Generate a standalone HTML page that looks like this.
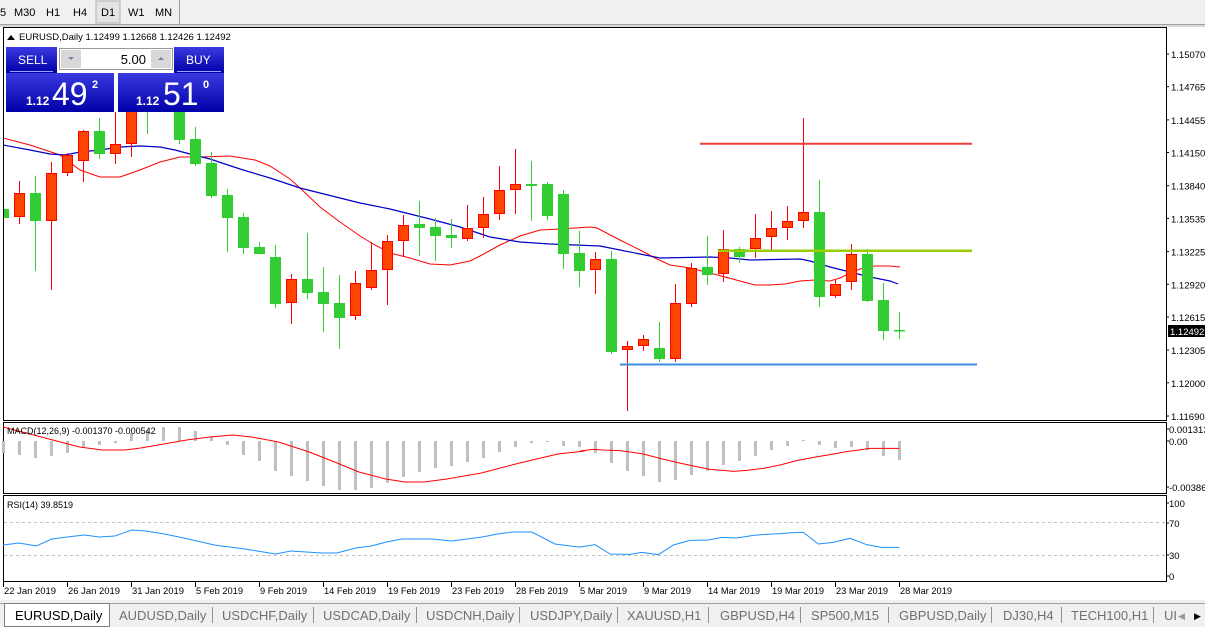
<!DOCTYPE html>
<html><head><meta charset="utf-8"><style>
html,body{margin:0;padding:0;width:1205px;height:627px;overflow:hidden;background:#fff;font-family:"Liberation Sans",sans-serif}
svg{display:block}
</style></head><body>
<svg id="s" width="1205" height="627" xmlns="http://www.w3.org/2000/svg" font-family="Liberation Sans, sans-serif">
<rect x="0" y="0" width="1205" height="25" fill="#f0f0f0"/>
<line x1="0" y1="24.5" x2="1205" y2="24.5" stroke="#a0a0a0"/>
<rect x="96" y="1" width="24" height="22" fill="#e4e4e4" stroke="#b0b0b0"/>
<line x1="179.5" y1="0" x2="179.5" y2="24" stroke="#a0a0a0"/>
<g font-size="11" fill="#000">
<text x="0" y="16">5</text><text x="14" y="16">M30</text><text x="46" y="16">H1</text><text x="73" y="16">H4</text><text x="101" y="16">D1</text><text x="128" y="16">W1</text><text x="155" y="16">MN</text>
</g>
<rect x="0" y="25" width="1205" height="2" fill="#d8d8d8"/>
<rect x="3.5" y="27.5" width="1163" height="393" fill="#fff" stroke="#000"/>
<rect x="3.5" y="422.5" width="1163" height="71" fill="#fff" stroke="#000"/>
<rect x="3.5" y="495.5" width="1163" height="86" fill="#fff" stroke="#000"/>
<g id="g"></g>
<g font-size="9.5" fill="#000" id="ax"></g>
<rect x="1168" y="325" width="37" height="12" fill="#000"/>
<text x="1170" y="335" font-size="9.5" fill="#fff">1.12492</text>
<path d="M7 40 L11 35 L15 40 Z" fill="#000"/>
<text x="19" y="40" font-size="9.5" fill="#000">EURUSD,Daily  1.12499 1.12668 1.12426 1.12492</text>
<defs><linearGradient id="bg" x1="0" y1="0" x2="0" y2="1"><stop offset="0" stop-color="#3a3ae0"/><stop offset="1" stop-color="#0000a8"/></linearGradient></defs>
<rect x="6" y="47" width="218" height="65" fill="#fff"/>
<rect x="6" y="47" width="51" height="26" fill="url(#bg)"/>
<rect x="174" y="47" width="50" height="26" fill="url(#bg)"/>
<rect x="6" y="73" width="108" height="39" fill="url(#bg)"/>
<rect x="118" y="73" width="106" height="39" fill="url(#bg)"/>
<line x1="10" y1="71.5" x2="53" y2="71.5" stroke="#9aa0ff"/>
<line x1="177" y1="71.5" x2="221" y2="71.5" stroke="#9aa0ff"/>
<rect x="59.5" y="48.5" width="113" height="21" fill="#fff" stroke="#999"/>
<rect x="61" y="50" width="20" height="18" fill="#d8d8d8"/><rect x="151" y="50" width="20" height="18" fill="#d8d8d8"/>
<path d="M68 57 L74 57 L71 60Z" fill="#7080a0"/><path d="M158 60 L164 60 L161 57Z" fill="#7080a0"/>
<text x="146" y="64" font-size="13" text-anchor="end" fill="#000">5.00</text>
<text x="18" y="64" font-size="12" fill="#fff">SELL</text>
<text x="186" y="64" font-size="12" fill="#fff">BUY</text>
<text x="26" y="105" font-size="12" font-weight="bold" fill="#fff">1.12</text>
<text x="52" y="105" font-size="32" fill="#fff">49</text>
<text x="92" y="88" font-size="11" font-weight="bold" fill="#fff">2</text>
<text x="136" y="105" font-size="12" font-weight="bold" fill="#fff">1.12</text>
<text x="163" y="105" font-size="32" fill="#fff">51</text>
<text x="203" y="88" font-size="11" font-weight="bold" fill="#fff">0</text>
<text x="7" y="434" font-size="9" fill="#000">MACD(12,26,9) -0.001370 -0.000542</text>
<text x="7" y="508" font-size="9" fill="#000">RSI(14) 39.8519</text>
<rect x="0" y="600" width="1205" height="27" fill="#f0f0f0"/>
<line x1="0" y1="603.5" x2="1205" y2="603.5" stroke="#a0a0a0"/>
<rect x="4.5" y="603.5" width="105" height="23" fill="#fff" stroke="#808080"/>
<g font-size="13" fill="#707070" id="tabs"></g>
</svg>
<script>
var NS="http://www.w3.org/2000/svg",g=document.getElementById('g'),ax=document.getElementById('ax');
function el(p,t,a,txt){var e=document.createElementNS(NS,t);for(var k in a)e.setAttribute(k,a[k]);if(txt)e.textContent=txt;p.appendChild(e);return e;}
var d=el(g,'defs',{});var cp=el(d,'clipPath',{id:'mc'});el(cp,'rect',{x:4,y:28,width:1162,height:392});
var m=el(g,'g',{'clip-path':'url(#mc)'});
var C=[[209,218,199,240,'g'],[193,217,181,224,'o'],[193,221,176,271,'g'],[173,221,162,290,'o'],[155,173,153,176,'o'],[131,161,130,182,'o'],[131,154,118,159,'g'],[144,154,107,164,'o'],[105,144,100,157,'o'],[96,110,90,134,'g'],[80,100,75,108,'o'],[108,140,100,144,'g'],[139,164,127,166,'g'],[163,196,152,198,'g'],[195,218,189,252,'g'],[217,248,213,254,'g'],[247,254,242,254,'g'],[257,304,245,308,'g'],[279,303,274,324,'o'],[279,293,233,299,'g'],[292,304,267,332,'g'],[303,318,275,349,'g'],[283,316,271,320,'o'],[270,288,242,290,'o'],[241,270,235,305,'o'],[225,241,215,257,'o'],[224,228,201,256,'g'],[227,236,218,261,'g'],[235,238,219,248,'g'],[228,239,205,241,'o'],[214,228,197,238,'o'],[190,214,166,220,'o'],[184,190,149,214,'o'],[184,186,161,221,'g'],[184,216,182,220,'g'],[194,254,190,269,'g'],[253,271,231,287,'g'],[259,270,252,294,'o'],[259,352,251,354,'g'],[346,350,341,411,'o'],[339,346,335,351,'o'],[348,359,322,362,'g'],[303,359,284,362,'o'],[268,304,263,307,'o'],[267,275,236,285,'g'],[249,274,230,282,'o'],[249,257,247,263,'g'],[238,249,214,258,'o'],[228,237,211,250,'o'],[221,228,206,240,'o'],[212,221,118,228,'o'],[212,297,180,307,'g'],[284,296,280,298,'o'],[254,282,244,290,'o'],[254,301,249,302,'g'],[300,331,283,340,'g'],[330,331,312,339,'g']];
function pl(par,pts,col,w){var s=pts.map(function(p){return p[0]+','+p[1]}).join(' ');el(par,'polyline',{points:s,fill:'none',stroke:col,'stroke-width':w||1});}
pl(m,[[3,138],[30,145],[60,155],[80,170],[100,177],[120,177],[140,170],[160,162],[180,157],[200,157],[230,156],[255,160],[270,166],[290,179],[300,188],[320,207],[340,222],[360,236],[375,245],[390,253],[410,258],[430,264],[450,265],[470,261],[480,256],[500,245],[520,236],[540,230],[560,229],[590,227],[597,228],[620,240],[640,250],[655,258],[670,265],[690,268],[710,273],[725,277],[740,281],[755,285],[770,285],[785,284],[800,281],[815,280],[830,281],[840,278],[850,273],[860,269],[875,266],[890,266],[900,267]],'#f00',1);
pl(m,[[3,145],[30,150],[50,154],[65,155],[80,152],[100,150],[120,147],[140,146],[160,147],[175,150],[190,154],[210,159],[240,169],[270,178],[300,188],[320,193],[340,198],[360,203],[390,209],[410,214],[430,219],[460,227],[490,237],[520,242],[550,244],[600,246],[620,250],[640,254],[660,258],[710,257],[730,258],[750,260],[800,259],[810,261],[830,267],[850,272],[870,277],[890,281],[898,284]],'#0000c8',1.2);
C.forEach(function(c,i){var x=3.5+16*i;var gr=c[4]=='g';
el(m,'line',{x1:x,y1:c[2],x2:x,y2:c[3],stroke:gr?'#3c3':'#f00','stroke-width':1});
var h=Math.max(c[1]-c[0],1.5);
if(gr)el(m,'rect',{x:x-5.5,y:c[0],width:11,height:h,fill:'#32cd32'});
else el(m,'rect',{x:x-5,y:c[0]+0.5,width:10,height:h-1,fill:'#ff4500',stroke:'#f00','stroke-width':1});
});
el(m,'line',{x1:700,y1:143.7,x2:972,y2:143.7,stroke:'#f03c3c','stroke-width':2});
el(m,'line',{x1:718,y1:250.7,x2:972,y2:250.7,stroke:'#9acd00','stroke-width':2.5});
el(m,'line',{x1:620,y1:364.5,x2:977,y2:364.5,stroke:'#3b8fe0','stroke-width':2});
[["1.15070",54],["1.14765",86.7],["1.14455",119.9],["1.14150",152.5],["1.13840",185.7],["1.13535",218.4],["1.13225",251.6],["1.12920",284.3],["1.12615",317],["1.12305",350],["1.12000",382.8],["1.11690",416]].forEach(function(t){
el(ax,'line',{x1:1166,y1:t[1],x2:1169,y2:t[1],stroke:'#000'});el(ax,'text',{x:1171,y:t[1]+4},t[0]);});
[["0.001313",429],["0.00",441],["-0.00386",487],["100",503],["70",523],["30",555],["0",576]].forEach(function(t){
el(ax,'line',{x1:1166,y1:t[1],x2:1169,y2:t[1],stroke:'#000'});el(ax,'text',{x:1169,y:t[1]+4},t[0]);});
["22 Jan 2019","26 Jan 2019","31 Jan 2019","5 Feb 2019","9 Feb 2019","14 Feb 2019","19 Feb 2019","23 Feb 2019","28 Feb 2019","5 Mar 2019","9 Mar 2019","14 Mar 2019","19 Mar 2019","23 Mar 2019","28 Mar 2019"].forEach(function(t,i){var x=3+64*i;
el(ax,'line',{x1:x+0.5,y1:582,x2:x+0.5,y2:587,stroke:'#000'});el(ax,'text',{x:x+1,y:594,textLength:(t.length==11?52:47),lengthAdjust:'spacingAndGlyphs'},t);});
var H=[453,455,458,456,453,447,445,443,433,430,427,427,431,437,445,455,461,471,476,481,486,490,490,488,483,477,472,468,466,462,458,452,447,443,442,446,447,453,463,471,476,482,480,475,471,465,461,456,450,446,440,445,448,447,450,456,460];
H.forEach(function(b,i){var x=3.5+16*i;var y1=Math.min(b,441),y2=Math.max(b,441);el(g,'rect',{x:x-1.5,y:y1,width:3,height:Math.max(y2-y1,1),fill:'#c0c0c0'});});
var sz=[[0,427],[100,437],[200,447],[260,450],[320,450],[360,448],[420,444],[480,440],[540,437],[600,435],[650,437],[720,442],[800,452],[860,461],[930,472],[1000,479],[1050,482],[1100,482],[1160,479],[1250,473],[1350,463],[1450,454],[1520,451]];
var sig=sz.map(function(p){return [3+p[0]/2.613,p[1]]});
[[0,93],[40,88],[70,90],[120,92],[150,96],[190,102],[240,115],[290,127],[340,138],[390,148],[430,151],[460,154],[500,151],[550,145],[600,135],[650,122],[700,112],[750,104],[800,95],[850,88],[870,85],[958,85]].forEach(function(p){sig.push([580+p[0]/3,420+p[1]/3])});
pl(g,sig,'#f00',1);
el(g,'line',{x1:4,y1:522.5,x2:1166,y2:522.5,stroke:'#c0c0c0','stroke-dasharray':'3,3'});
el(g,'line',{x1:4,y1:555.5,x2:1166,y2:555.5,stroke:'#c0c0c0','stroke-dasharray':'3,3'});
var rz=[[8,545],[50,543],[95,546],[135,539],[176,537],[220,535],[260,537],[300,536],[345,530],[380,531],[430,534],[480,538],[560,545],[640,549],[720,554],[760,551],[840,553],[880,553],[930,548],[970,546],[1010,542],[1050,539],[1130,539],[1180,541],[1260,537],[1300,534],[1340,532],[1390,532],[1450,544],[1510,547]];
var rsi=rz.map(function(p){return [p[0]/2.613,p[1]]});
[[0,381],[45,374],[90,402],[150,403],[185,397],[235,404],[280,375],[330,361],[385,360],[425,352],[470,354],[520,346],[560,343],[600,341],[650,337],[670,337],[715,372],[760,367],[810,355],[860,374],[905,382],[958,382]].forEach(function(p){rsi.push([580+p[0]/3,420+p[1]/3])});
pl(g,rsi,'#1e90ff',1);
var tb=document.getElementById('tabs');
[["EURUSD,Daily",15],["AUDUSD,Daily",119],["USDCHF,Daily",222],["USDCAD,Daily",323],["USDCNH,Daily",426],["USDJPY,Daily",530],["XAUUSD,H1",627],["GBPUSD,H4",720],["SP500,M15",811],["GBPUSD,Daily",899],["DJ30,H4",1003],["TECH100,H1",1071],["UI",1164]].forEach(function(t,i){
el(tb,'text',{x:t[1],y:620,fill:i==0?'#000':'#707070'},t[0]);});
[212,313,416,519,617,708,800,888,991,1061,1153].forEach(function(x){el(tb,'line',{x1:x+0.5,y1:607,x2:x+0.5,y2:623,stroke:'#909090'});});
el(tb,'text',{x:1178,y:619,'font-size':'9',fill:'#999'},'◀');
el(tb,'text',{x:1194,y:619,'font-size':'9',fill:'#000'},'▶');
</script>
</body></html>
